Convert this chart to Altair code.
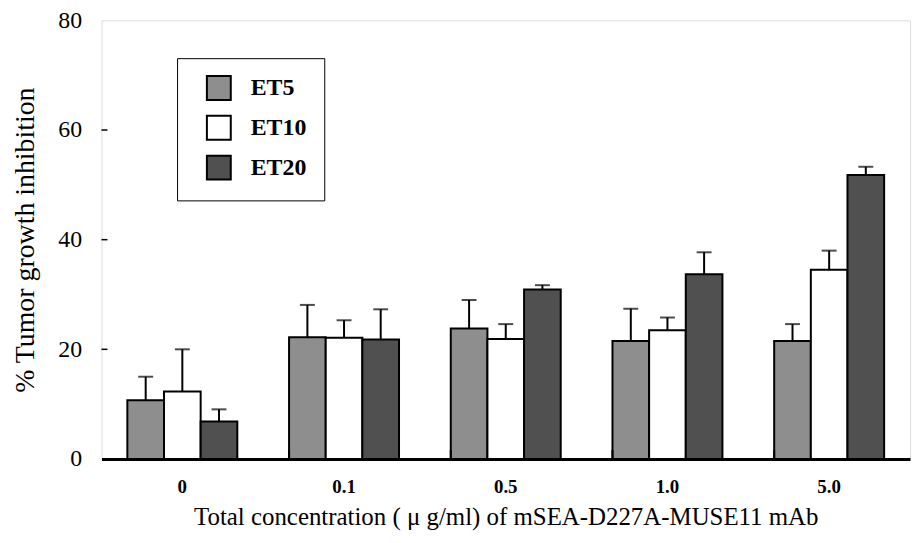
import altair as alt
import pandas as pd

categories = ["0", "0.1", "0.5", "1.0", "5.0"]
series = ["ET5", "ET10", "ET20"]
et5 = [10.7, 22.2, 23.8, 21.5, 21.5]
et10 = [12.3, 22.1, 21.9, 23.5, 34.5]
et20 = [6.85, 21.8, 30.9, 33.7, 51.8]
et5_err = [4.3, 5.9, 5.2, 5.9, 3.1]
et10_err = [7.7, 3.2, 2.7, 2.3, 3.5]
et20_err = [2.2, 5.5, 0.8, 4.0, 1.5]
y_ticks = [20, 40, 60]
x_bounds = ["0.1", "0.5", "1.0", "5.0"]

rows = []
for vals, errs, s in [(et5, et5_err, "ET5"), (et10, et10_err, "ET10"), (et20, et20_err, "ET20")]:
    for c, v, e in zip(categories, vals, errs):
        rows.append({"conc": c, "series": s, "value": v, "upper": v + e})
df = pd.DataFrame(rows)

W, H = 813, 441
SERIF = "Liberation Serif"

x_enc = alt.X("conc:N", sort=categories,
              scale=alt.Scale(paddingInner=0.32, paddingOuter=0.16),
              axis=alt.Axis(title="Total concentration ( μ g/ml) of mSEA-D227A-MUSE11 mAb",
                            labelAngle=0, labelFont=SERIF, labelFontWeight="bold",
                            labelFontSize=19, labelColor="black", labelPadding=19,
                            ticks=False, domainColor="black", domainWidth=3,
                            titleFont=SERIF, titleFontWeight="normal", titleFontSize=25,
                            titleColor="black", titlePadding=8))
xo = alt.XOffset("series:N", sort=series, scale=alt.Scale(paddingInner=0, paddingOuter=0))
y_scale = alt.Scale(domain=[0, 80])

base = alt.Chart(df)

bars = base.mark_bar(stroke="black", strokeWidth=2).encode(
    x=x_enc,
    xOffset=xo,
    y=alt.Y("value:Q", scale=y_scale,
            axis=alt.Axis(title="% Tumor growth inhibition", values=[0, 20, 40, 60, 80],
                          grid=False, ticks=False, domain=False,
                          labelFont=SERIF, labelFontSize=24, labelColor="black",
                          labelPadding=20,
                          titleFont=SERIF, titleFontWeight="normal", titleFontSize=28,
                          titleColor="black", titlePadding=18)),
    fill=alt.Fill("series:N", sort=series,
                  scale=alt.Scale(domain=series, range=["#8e8e8e", "#ffffff", "#505050"]),
                  legend=alt.Legend(title=None, orient="none", legendX=76, legendY=38,
                                    symbolType="square", symbolSize=576,
                                    symbolStrokeColor="black", symbolStrokeWidth=2,
                                    symbolOffset=12,
                                    labelFont=SERIF, labelFontWeight="bold",
                                    labelFontSize=24, labelColor="black",
                                    labelOffset=19, rowPadding=8, padding=17,
                                    strokeColor="black", fillColor="white")),
)

err_line = base.mark_rule(color="black", strokeWidth=2).encode(
    x=alt.X("conc:N", sort=categories),
    xOffset=xo,
    y=alt.Y("value:Q", scale=y_scale),
    y2="upper:Q",
)

err_cap = base.mark_tick(color="black", thickness=2, size=15, orient="horizontal").encode(
    x=alt.X("conc:N", sort=categories),
    xOffset=xo,
    y=alt.Y("upper:Q", scale=y_scale),
)

ytick_df = pd.DataFrame({"v": y_ticks})
yticks = alt.Chart(ytick_df).mark_rule(color="black", strokeWidth=1.5).encode(
    y=alt.Y("v:Q", scale=y_scale),
    x=alt.value(0),
    x2=alt.value(6),
)

xb_df = pd.DataFrame({"conc": x_bounds})
xticks = alt.Chart(xb_df).mark_rule(color="black", strokeWidth=2).encode(
    x=alt.X("conc:N", sort=categories, bandPosition=0),
    y=alt.value(H - 9),
    y2=alt.value(H),
)

chart = alt.layer(bars, err_line, err_cap, yticks, xticks).properties(
    width=W, height=H,
    autosize=alt.AutoSizeParams(type="none"),
    padding={"left": 94, "top": 11, "right": 2, "bottom": 75},
).configure_view(stroke="black", strokeWidth=2).configure(background="white")

chart.save("out.html", embed_options={"renderer": "svg", "actions": False})
